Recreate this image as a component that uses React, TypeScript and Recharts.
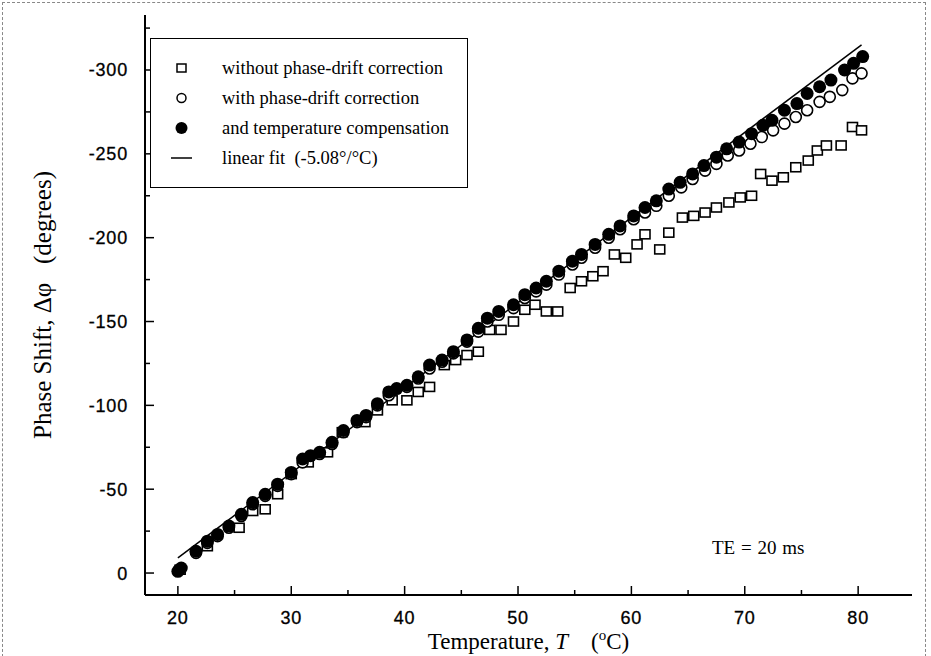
import React from 'react';
import { ScatterChart, Scatter, XAxis, YAxis, Legend, Label } from 'recharts';

// Temperature (°C) for each measurement series
const tempFilled = [20.0, 20.3, 21.6, 22.6, 23.5, 24.5, 25.6, 26.6, 27.7, 28.8, 30.0, 31.0, 31.7, 32.5, 33.6, 34.6, 35.8, 36.6, 37.6, 38.6, 39.3, 40.2, 41.2, 42.2, 43.3, 44.3, 45.5, 46.5, 47.3, 48.3, 49.6, 50.6, 51.6, 52.5, 53.6, 54.8, 55.6, 56.8, 58.0, 59.0, 60.2, 61.2, 62.2, 63.3, 64.3, 65.4, 66.4, 67.5, 68.4, 69.5, 70.6, 71.6, 72.4, 73.5, 74.6, 75.5, 76.6, 77.6, 78.8, 79.6, 80.4];
const phaseFilled = [-1, -3, -13, -19, -23, -28, -35, -42, -47, -53, -60, -68, -70, -72, -78, -85, -91, -94, -101, -108, -110, -112, -117, -124, -127, -132, -139, -146, -152, -156, -160, -166, -170, -174, -180, -186, -190, -196, -202, -207, -213, -218, -222, -229, -233, -238, -243, -248, -253, -257, -262, -267, -270, -276, -280, -286, -290, -294, -300, -304, -308];

const tempOpen = [20.1, 21.6, 22.6, 23.5, 24.5, 25.6, 26.6, 27.7, 28.8, 30.0, 31.0, 32.5, 33.6, 34.6, 35.8, 36.6, 37.6, 38.6, 40.2, 41.2, 42.2, 43.3, 44.3, 45.5, 46.5, 47.3, 48.3, 49.6, 50.6, 51.6, 52.5, 53.6, 54.8, 55.6, 56.8, 58.0, 59.0, 60.2, 61.2, 62.2, 63.3, 64.4, 65.4, 66.5, 67.5, 68.5, 69.5, 70.5, 71.5, 72.5, 73.5, 74.5, 75.5, 76.6, 77.5, 78.6, 79.5, 80.3];
const phaseOpen = [-2, -12, -18, -22, -27, -34, -41, -46, -52, -59, -66, -71, -77, -84, -90, -93, -100, -106, -111, -116, -122, -126, -131, -138, -144, -150, -154, -158, -164, -168, -172, -178, -184, -188, -194, -200, -205, -211, -215, -219, -225, -230, -235, -240, -244, -249, -252, -256, -260, -264, -268, -272, -276, -281, -284, -288, -295, -298];

const tempSquare = [20.2, 22.6, 25.4, 26.6, 27.7, 28.8, 30.0, 31.5, 33.2, 34.5, 36.5, 37.6, 38.9, 40.2, 41.2, 42.2, 43.5, 44.5, 45.5, 46.5, 47.5, 48.5, 49.6, 50.6, 51.5, 52.5, 53.5, 54.6, 55.6, 56.6, 57.5, 58.5, 59.5, 60.5, 61.2, 62.5, 63.3, 64.5, 65.5, 66.5, 67.5, 68.6, 69.6, 70.6, 71.4, 72.4, 73.4, 74.5, 75.6, 76.4, 77.2, 78.5, 79.5, 80.3];
const phaseSquare = [-2, -16, -27, -37, -38, -47, -59, -66, -72, -84, -90, -97, -103, -103, -108, -111, -124, -127, -130, -132, -145, -145, -150, -157, -160, -156, -156, -170, -174, -177, -180, -190, -188, -196, -202, -193, -203, -212, -213, -215, -218, -221, -224, -225, -238, -234, -236, -242, -246, -252, -255, -255, -266, -264];

// Linear fit (-5.08 °/°C) end points
const fitTemp = [20, 80.3];
const fitPhase = [-9, -315];

const xTicks = [20, 25, 30, 35, 40, 45, 50, 55, 60, 65, 70, 75, 80];
const xLabeled = [20, 30, 40, 50, 60, 70, 80];
const yTicks = [0, -25, -50, -75, -100, -125, -150, -175, -200, -225, -250, -275, -300, -325];
const yLabeled = [0, -50, -100, -150, -200, -250, -300];

const legendItems = [
  { key: 'sq', text: 'without phase-drift correction' },
  { key: 'oc', text: 'with phase-drift correction' },
  { key: 'fc', text: 'and temperature compensation' },
  { key: 'ln', text: 'linear fit  (-5.08\u00B0/\u00B0C)' },
];

const zip = (xs: number[], ys: number[]) => xs.map((t, i) => ({ t, p: ys[i] }));
const filledData = zip(tempFilled, phaseFilled);
const openData = zip(tempOpen, phaseOpen);
const squareData = zip(tempSquare, phaseSquare);
const fitData = zip(fitTemp, fitPhase);

const SERIF = '"Liberation Serif", "DejaVu Serif", serif';
const SANS = '"Liberation Sans", Arial, sans-serif';

const SquareShape = (props: any) => {
  const { cx, cy } = props;
  if (cx == null || cy == null) return <g />;
  return <rect x={cx - 5} y={cy - 4.5} width={10} height={9} fill="#fff" stroke="#000" strokeWidth={1.6} />;
};
const OpenShape = (props: any) => {
  const { cx, cy } = props;
  if (cx == null || cy == null) return <g />;
  return <circle cx={cx} cy={cy} r={5.5} fill="#fff" stroke="#000" strokeWidth={1.6} />;
};
const FilledShape = (props: any) => {
  const { cx, cy } = props;
  if (cx == null || cy == null) return <g />;
  return <circle cx={cx} cy={cy} r={6.5} fill="#000" stroke="none" />;
};
const NoShape = () => <g />;

const XTick = (props: any) => {
  const { x, y, payload } = props;
  const v = payload.value;
  const major = xLabeled.includes(v);
  return (
    <g>
      <line x1={x} y1={y} x2={x} y2={y - (major ? 9 : 5)} stroke="#000" strokeWidth={1.5} />
      {major && (
        <text x={x} y={y + 29} textAnchor="middle" fontFamily={SANS} fontSize={18} letterSpacing={0.8} fill="#000" stroke="#000" strokeWidth={0.3}>
          {v}
        </text>
      )}
    </g>
  );
};

const YTick = (props: any) => {
  const { x, y, payload } = props;
  const v = payload.value;
  const major = yLabeled.includes(v);
  return (
    <g>
      <line x1={x} y1={y} x2={x + (major ? 9 : 5)} y2={y} stroke="#000" strokeWidth={1.5} />
      {major && (
        <text x={x - 17} y={y + 6.5} textAnchor="end" fontFamily={SANS} fontSize={18} letterSpacing={0.8} fill="#000" stroke="#000" strokeWidth={0.3}>
          {v}
        </text>
      )}
    </g>
  );
};

const YTitle = (props: any) => {
  const vb = props.viewBox || {};
  const cx = vb.x + 42;
  const cy = vb.y + vb.height / 2;
  return (
    <text x={cx} y={cy} transform={`rotate(-90 ${cx} ${cy})`} textAnchor="middle" dominantBaseline="central" fontFamily={SERIF} fontSize={25} fill="#000">
      Phase Shift, {'\u0394\u03C6'}{'\u00A0\u00A0\u00A0'}(degrees)
    </text>
  );
};

const XTitle = (props: any) => {
  const vb = props.viewBox || {};
  const cx = vb.x + vb.width / 2;
  const cy = vb.y + 54;
  return (
    <text x={cx} y={cy} textAnchor="middle" fontFamily={SERIF} fontSize={23} fill="#000">
      Temperature,{' '}
      <tspan fontStyle="italic">T</tspan>
      {'\u00A0\u00A0\u00A0\u00A0'}(
      <tspan dy={-9} fontSize={15}>o</tspan>
      <tspan dy={9}>C)</tspan>
    </text>
  );
};

const LegendBox = () => (
  <div
    style={{
      border: '1.5px solid #000',
      width: 318,
      height: 150,
      boxSizing: 'border-box',
      padding: '14px 0 0 0',
      fontFamily: SERIF,
      fontSize: 18.5,
      background: '#fff',
    }}
  >
    {legendItems.map((it) => (
      <div key={it.key} style={{ display: 'flex', alignItems: 'center', height: 30 }}>
        <svg width={71} height={20} style={{ flex: 'none' }}>
          {it.key === 'sq' && <rect x={26} y={6} width={9} height={8} fill="#fff" stroke="#000" strokeWidth={1.5} />}
          {it.key === 'oc' && <circle cx={30.5} cy={10} r={4.5} fill="#fff" stroke="#000" strokeWidth={1.5} />}
          {it.key === 'fc' && <circle cx={30.5} cy={10} r={6} fill="#000" />}
          {it.key === 'ln' && <line x1={20} y1={10} x2={41} y2={10} stroke="#000" strokeWidth={1.5} />}
        </svg>
        <span style={{ whiteSpace: 'pre', lineHeight: '20px' }}>{it.text}</span>
      </div>
    ))}
  </div>
);

export default function App() {
  return (
    <div style={{ position: 'absolute', left: 0, top: 0, width: 931, height: 656, background: '#fff' }}>
      <div style={{ position: 'absolute', left: 2, top: 2, width: 924, height: 660, border: '1px dashed #888', boxSizing: 'border-box' }} />
      <ScatterChart width={931} height={656} margin={{ top: 15, right: 19, left: 0, bottom: 0 }}>
        <XAxis
          dataKey="t"
          type="number"
          domain={[17.1, 84.75]}
          ticks={xTicks}
          interval={0}
          allowDataOverflow
          height={61}
          tickSize={0}
          tickMargin={0}
          tickLine={false}
          tick={<XTick />}
          axisLine={{ stroke: '#000', strokeWidth: 2 }}
        >
          <Label content={<XTitle />} />
        </XAxis>
        <XAxis xAxisId="top" orientation="top" type="number" domain={[17.1, 84.75]} height={0} tick={false} tickLine={false} axisLine={{ stroke: '#000', strokeWidth: 2 }} />
        <YAxis
          dataKey="p"
          type="number"
          reversed
          domain={[-332.8, 13.1]}
          ticks={yTicks}
          interval={0}
          allowDataOverflow
          width={145}
          tickSize={0}
          tickMargin={0}
          tickLine={false}
          tick={<YTick />}
          axisLine={{ stroke: '#000', strokeWidth: 2 }}
        >
          <Label content={<YTitle />} />
        </YAxis>
        <YAxis yAxisId="right" orientation="right" type="number" reversed domain={[-332.8, 13.1]} width={0} tick={false} tickLine={false} axisLine={{ stroke: '#000', strokeWidth: 2 }} />
        <Legend
          layout="vertical"
          align="center"
          verticalAlign="middle"
          content={() => <LegendBox />}
          wrapperStyle={{ left: 150, top: 38, width: 318, height: 150 }}
        />
        <Scatter name="linear fit" data={fitData} line={{ stroke: '#000', strokeWidth: 1.5 }} shape={<NoShape />} isAnimationActive={false} />
        <Scatter name="without phase-drift correction" data={squareData} shape={<SquareShape />} isAnimationActive={false} />
        <Scatter name="with phase-drift correction" data={openData} shape={<OpenShape />} isAnimationActive={false} />
        <Scatter name="and temperature compensation" data={filledData} shape={<FilledShape />} isAnimationActive={false} />
      </ScatterChart>
      <div style={{ position: 'absolute', left: 712, top: 537, fontFamily: SERIF, fontSize: 19, whiteSpace: 'pre', wordSpacing: 1 }}>
        {'TE = 20 ms'}
      </div>
    </div>
  );
}
